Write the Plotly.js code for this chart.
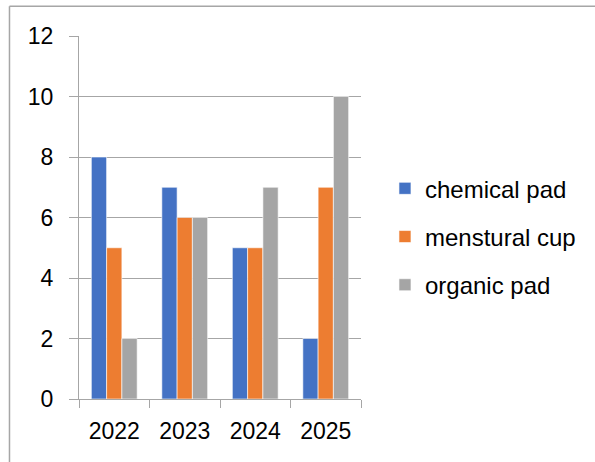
<!DOCTYPE html>
<html>
<head>
<meta charset="utf-8">
<script src="https://cdn.plot.ly/plotly-3.0.1.min.js"></script>
<style>
  html, body { margin: 0; padding: 0; background: #fff; }
  #chart { width: 595px; height: 462px; }
</style>
</head>
<body>
<div id="chart"></div>
<script>
const years = ["2022", "2023", "2024", "2025"];
const seriesNames = ["chemical pad", "menstural cup", "organic pad"];
const chemicalPad = [8, 7, 5, 2];
const mensturalCup = [5, 6, 5, 7];
const organicPad = [2, 6, 7, 10];
const yTicks = [0, 2, 4, 6, 8, 10, 12];

const colors = ["#4472C4", "#ED7D31", "#A5A5A5"];
const values = [chemicalPad, mensturalCup, organicPad];

const traces = values.map((v, i) => ({
  type: "bar",
  x: years,
  y: v,
  name: seriesNames[i],
  legendgroup: "g" + i,
  marker: { color: colors[i], line: { color: "#ffffff", width: 0.6 } },
  hoverinfo: "x+y+name"
}));

const fontFam = "Liberation Sans, Arial, sans-serif";
const gray = "#a6a6a6";

const layout = {
  width: 595,
  height: 462,
  margin: { l: 79, r: 234, t: 36, b: 63, pad: 0 },
  paper_bgcolor: "#ffffff",
  plot_bgcolor: "#ffffff",
  font: { family: fontFam, size: 23, color: "#000000" },
  barmode: "group",
  bargap: 0.35,
  bargroupgap: 0,
  showlegend: true,
  legend: {
    x: 1.085, xanchor: "left",
    y: 0.447, yanchor: "middle",
    font: { family: fontFam, size: 24, color: "#000000" },
    tracegroupgap: 14,
    bgcolor: "rgba(0,0,0,0)",
    borderwidth: 0
  },
  xaxis: {
    type: "category",
    categoryorder: "array",
    categoryarray: years,
    showline: true,
    linecolor: gray,
    linewidth: 1,
    ticks: "outside",
    tickson: "boundaries",
    ticklen: 8,
    tickcolor: gray,
    tickwidth: 1,
    showgrid: false,
    zeroline: false,
    tickfont: { family: fontFam, size: 23, color: "#000000" },
    ticklabelstandoff: 11
  },
  yaxis: {
    range: [0, 12],
    tickvals: yTicks,
    ticktext: yTicks.map(String),
    showline: true,
    linecolor: gray,
    linewidth: 1,
    ticks: "outside",
    ticklen: 9,
    tickcolor: gray,
    tickwidth: 1,
    showgrid: true,
    gridcolor: gray,
    gridwidth: 1,
    zeroline: false,
    tickfont: { family: fontFam, size: 23, color: "#000000" },
    ticklabelstandoff: 11
  },
  shapes: [
    { type: "line", xref: "paper", yref: "paper", x0: -0.2465, x1: -0.2465, y0: 1.0823, y1: -0.2, line: { color: gray, width: 1.5 } },
    { type: "line", xref: "paper", yref: "paper", x0: -0.2465, x1: 1.9, y0: 1.0823, y1: 1.0823, line: { color: gray, width: 1.5 } }
  ]
};

Plotly.newPlot("chart", traces, layout, { displayModeBar: false, staticPlot: true });
</script>
</body>
</html>
